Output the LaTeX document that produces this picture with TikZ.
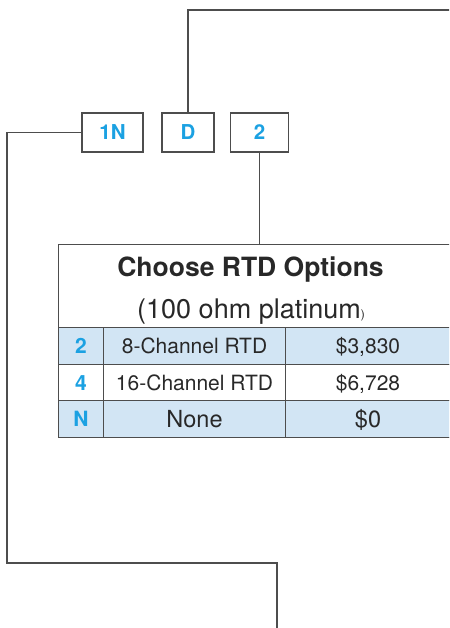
\documentclass[tikz,border=0pt]{standalone}
\usepackage{fontspec}
\setmainfont{TeX Gyre Heros}
\usepackage{tikz}
\usetikzlibrary{positioning}
\definecolor{mylinegray}{RGB}{77,77,77}
\definecolor{mytextgray}{RGB}{40,40,40}
\definecolor{myblue}{RGB}{27,161,226}
\definecolor{myrowblue}{RGB}{210,229,244}
\tikzstyle{codebox}=[draw=mylinegray,fill=white,minimum height=39pt,inner sep=0pt,text=myblue,font=\bfseries\fontsize{20.5}{20}\selectfont,text height=14.7pt,text depth=0pt]
\tikzstyle{cell}=[draw=mylinegray,line width=1pt,anchor=north west,inner sep=0pt,minimum height=36.67pt,text height=15.1pt,text depth=0pt,text=mytextgray,font=\fontsize{21}{21}\selectfont]
\tikzstyle{codecell}=[cell,minimum width=45pt,text=myblue,font=\bfseries\fontsize{21}{21}\selectfont]
\tikzstyle{desccell}=[cell,minimum width=182pt]
\tikzstyle{pricecell}=[cell,minimum width=165pt]
\tikzstyle{bigtext}=[font=\fontsize{23.5}{23}\selectfont,text height=16.9pt]

\begin{document}
\begin{tikzpicture}[x=1pt,y=-1pt,line width=1.1pt,draw=mylinegray]
\useasboundingbox (0,0) rectangle (449,628);
\clip (0,0) rectangle (449,628);
% ordering code boxes
\draw (112.5,132.5) node [codebox,minimum width=61pt] (c1N) {1N};
\draw (188,132.5) node [codebox,minimum width=52pt] (cD) {D};
\draw (259.5,132.5) node [codebox,minimum width=58pt] (c2) {2};
\coordinate (dend) at (470,10);
\coordinate (lbend) at (7,563);
\coordinate (lend) at (277,640);
\draw (cD.north) |- (dend);
\draw (c1N.west) -| (lbend) -| (lend);
% RTD option table
\node [draw=mylinegray,anchor=north west,minimum width=392pt,minimum height=193pt,inner sep=0pt] (rtd) at (58,244) {};
\draw (c2.south) -- (c2.south |- rtd.north);
\node [anchor=base,text=mytextgray,font=\bfseries\fontsize{26.5}{26}\selectfont] (title) at (250.5,276.7) {Choose RTD Options};
\node [anchor=base,text=mytextgray,font=\fontsize{27}{27}\selectfont] (subtitle) at (251,318) {(100 ohm platinum{\fontsize{12}{12}\selectfont)}};
\node [codecell,fill=myrowblue] (k2) at (58,327) {2};
\node [desccell,fill=myrowblue] (d2) at (103,327) {8-Channel RTD};
\node [pricecell,fill=myrowblue] (p2) at (285,327) {\$3,830};
\node [codecell] (k4) at (58,363.67) {4};
\node [desccell] (d4) at (103,363.67) {16-Channel RTD};
\node [pricecell] (p4) at (285,363.67) {\$6,728};
\node [codecell,fill=myrowblue] (kN) at (58,400.33) {N};
\node [desccell,fill=myrowblue,bigtext] (dN) at (103,400.33) {None};
\node [pricecell,fill=myrowblue,bigtext] (pN) at (285,400.33) {\$0};
\end{tikzpicture}
\end{document}
